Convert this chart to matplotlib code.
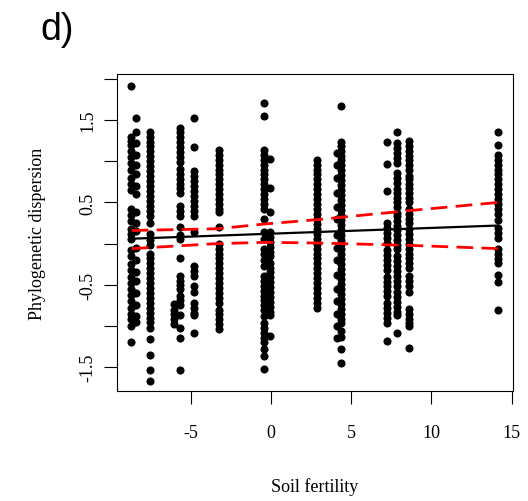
import matplotlib
matplotlib.use('Agg')
import matplotlib.pyplot as plt

plt.rcParams['font.family'] = 'Liberation Serif'
plt.rcParams['axes.unicode_minus'] = False

# soil fertility value of each column of points and the dispersion values in it
col_x = [-8.75, -8.45, -7.6, -6.1, -5.67, -4.82, -3.27, -0.45, -0.05, 2.86, 4.1, 4.35, 7.2, 7.83, 8.61, 14.15]

col_y = [
    # -8.75
    [1.92, 1.30, 1.25, 1.20, 1.12, 1.05, 0.98, 0.90, 0.80, 0.72, 0.65, 0.42, 0.35, 0.28,
     0.18, 0.12, 0.06, -0.08, -0.15, -0.25, -0.32, -0.40, -0.48, -0.55, -0.62, -0.70,
     -0.78, -0.85, -0.92, -1.00, -1.19],
    # -8.45
    [1.52, 1.35, 1.22, 1.08, 0.95, 0.85, 0.70, 0.60, 0.38, 0.25, 0.15, -0.05, -0.20,
     -0.35, -0.45, -0.60, -0.75, -0.88, -0.95],
    # -7.6
    [1.36, 1.30, 1.24, 1.18, 1.12, 1.06, 1.00, 0.94, 0.88, 0.82, 0.76, 0.70, 0.64, 0.58,
     0.52, 0.46, 0.40, 0.34, 0.25, 0.12, 0.05, -0.02, -0.12, -0.18, -0.24, -0.30, -0.36,
     -0.42, -0.48, -0.54, -0.60, -0.66, -0.72, -0.78, -0.84, -0.90, -0.95, -1.02, -1.16,
     -1.35, -1.53, -1.67],
    # -6.1
    [-0.73, -0.80, -0.86, -0.92, -0.97],
    # -5.67
    [1.41, 1.35, 1.29, 1.23, 1.17, 1.11, 1.05, 0.99, 0.91, 0.85, 0.79, 0.73, 0.67, 0.62,
     0.46, 0.40, 0.34, 0.20, 0.10, 0.06, -0.18, -0.39, -0.45, -0.50, -0.55, -0.63, -0.69,
     -0.75, -0.87, -1.03, -1.15, -1.54],
    # -4.82
    [1.53, 1.17, 0.88, 0.82, 0.76, 0.70, 0.64, 0.58, 0.52, 0.46, 0.40, 0.34, 0.14, -0.27,
     -0.33, -0.39, -0.51, -0.59, -0.72, -0.78, -0.84, -0.87, -1.09],
    # -3.27
    [1.14, 1.08, 1.02, 0.96, 0.90, 0.84, 0.78, 0.72, 0.66, 0.60, 0.54, 0.48, 0.42, 0.38,
     0.20, 0.00, -0.06, -0.12, -0.18, -0.24, -0.30, -0.36, -0.42, -0.48, -0.54, -0.60,
     -0.66, -0.72, -0.80, -0.86, -0.92, -0.98, -1.04],
    # -0.45
    [1.71, 1.55, 1.14, 1.08, 1.02, 0.96, 0.90, 0.84, 0.78, 0.72, 0.66, 0.60, 0.54, 0.48,
     0.42, 0.30, 0.14, 0.06, -0.06, -0.12, -0.20, -0.27, -0.39, -0.45, -0.51, -0.57,
     -0.63, -0.69, -0.75, -0.81, -0.88, -0.96, -1.02, -1.08, -1.14, -1.20, -1.28, -1.37,
     -1.52],
    # -0.05
    [1.03, 0.67, 0.38, 0.14, 0.08, 0.02, -0.04, -0.10, -0.15, -0.23, -0.29, -0.35,
     -0.41, -0.47, -0.53, -0.59, -0.65, -0.71, -0.77, -0.83, -0.87, -1.12],
    # 2.86
    [1.02, 0.96, 0.90, 0.84, 0.78, 0.72, 0.66, 0.60, 0.54, 0.48, 0.42, 0.36, 0.30, 0.24,
     0.18, 0.12, 0.06, 0.00, -0.06, -0.12, -0.18, -0.24, -0.30, -0.36, -0.42, -0.48,
     -0.54, -0.60, -0.66, -0.72, -0.78],
    # 4.1
    [1.10, 0.95, 0.80, 0.62, 0.45, 0.30, 0.10, -0.05, -0.20, -0.38, -0.55, -0.70,
     -0.85, -1.00, -1.15],
    # 4.35
    [1.67, 1.24, 1.19, 1.13, 1.07, 1.01, 0.95, 0.89, 0.83, 0.77, 0.71, 0.65, 0.59, 0.53,
     0.47, 0.41, 0.35, 0.29, 0.23, 0.17, 0.11, 0.05, -0.01, -0.07, -0.13, -0.19, -0.25,
     -0.31, -0.37, -0.43, -0.49, -0.55, -0.61, -0.67, -0.73, -0.79, -0.85, -0.91, -0.96,
     -1.06, -1.13, -1.28, -1.45],
    # 7.2
    [1.24, 0.97, 0.64, 0.25, 0.19, 0.13, 0.07, 0.01, -0.08, -0.14, -0.20, -0.26,
     -0.32, -0.40, -0.46, -0.52, -0.58, -0.64, -0.72, -0.78, -0.84, -0.90, -0.96, -1.18],
    # 7.83
    [1.35, 1.22, 1.16, 1.10, 1.04, 0.98, 0.86, 0.80, 0.74, 0.66, 0.62, 0.56, 0.50,
     0.44, 0.37, 0.34, 0.28, 0.22, 0.16, 0.10, 0.04, -0.02, -0.06, -0.15, -0.21, -0.27,
     -0.33, -0.39, -0.45, -0.51, -0.59, -0.65, -0.71, -0.77, -0.83, -0.87, -1.08],
    # 8.61
    [1.25, 1.19, 1.13, 1.07, 1.01, 0.95, 0.89, 0.82, 0.79, 0.73, 0.67, 0.61, 0.55, 0.50,
     0.42, 0.36, 0.30, 0.25, 0.18, 0.12, 0.06, 0.00, -0.06, -0.12, -0.18, -0.24, -0.30,
     -0.39, -0.45, -0.51, -0.59, -0.79, -0.85, -0.91, -0.96, -1.00, -1.27],
    # 14.15
    [1.36, 1.20, 1.08, 1.02, 0.96, 0.90, 0.84, 0.78, 0.72, 0.66, 0.60, 0.54, 0.48, 0.42,
     0.36, 0.29, 0.19, 0.13, 0.07, -0.07, -0.13, -0.19, -0.23, -0.38, -0.46, -0.80],
]

# fitted line and its confidence band
fit_x = [-8.71, 14.14]
fit_y = [0.06, 0.22]
band_x = [-8.71, -3.43, -0.33, 2.78, 8.55, 14.14]
band_upper = [0.16, 0.18, 0.24, 0.29, 0.40, 0.50]
band_lower = [-0.06, 0.00, 0.016, 0.008, -0.02, -0.06]

fig = plt.figure(figsize=(5.28, 5.02), dpi=100)
ax = fig.add_axes([0.2216, 0.219, 0.7497, 0.6316])

for x, ys in zip(col_x, col_y):
    ax.scatter([x] * len(ys), ys, s=34, color='black', linewidths=0, zorder=2)

ax.plot(fit_x, fit_y, color='black', lw=1.6, zorder=3)
ax.plot(band_x, band_upper, color='red', lw=2, dashes=(6, 3), zorder=3)
ax.plot(band_x, band_lower, color='red', lw=2, dashes=(6, 3), zorder=3)

ax.set_xlim(-9.63, 15.08)
ax.set_ylim(-1.79, 2.06)

ax.set_xticks([-5, 0, 5, 10, 15])
ax.set_xticklabels(['-5', '0', '5', '10', '15'])
ax.set_yticks([-1.5, -1.0, -0.5, 0.0, 0.5, 1.0, 1.5, 2.0])
ax.set_yticklabels(['-1.5', '', '-0.5', '', '0.5', '', '1.5', ''], rotation=90, va='center')

ax.tick_params(axis='both', direction='out', length=9.5, width=0.8, labelsize=13)
ax.tick_params(axis='x', pad=14)
ax.tick_params(axis='y', pad=5)
for s in ax.spines.values():
    s.set_linewidth(0.8)

ax.set_xlabel('Soil fertility', fontsize=13)
ax.xaxis.set_label_coords(0.5, -0.30)
ax.xaxis.label.set_va('center')
ax.set_ylabel('Phylogenetic dispersion', fontsize=13)
ax.yaxis.set_label_coords(-0.2, 0.5)
ax.yaxis.label.set_va('center')

fig.text(0.076, 0.94, 'd)', fontsize=27, family='Liberation Sans', va='center', ha='left')

fig.savefig('out.png', dpi=100)
